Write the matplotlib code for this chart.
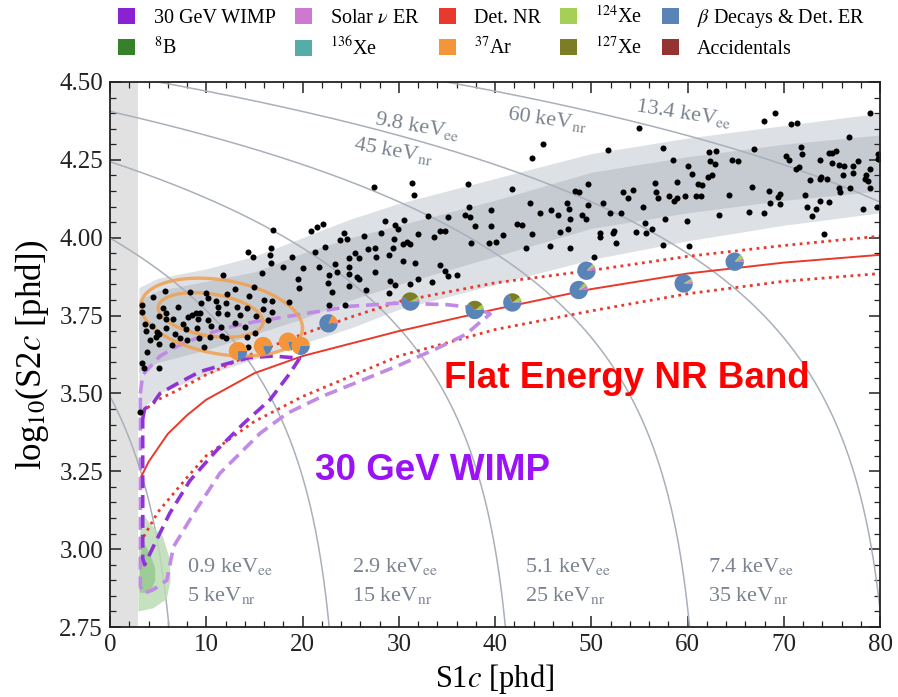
#!/usr/bin/env python3
# -*- coding: utf-8 -*-
"""
LZ-style S1c / log10(S2c) search-space plot with ER/NR bands,
WIMP contours and the observed events.
"""

import numpy as np
import matplotlib
matplotlib.use('Agg')
import matplotlib.pyplot as plt
from matplotlib.patches import Patch
from matplotlib.ticker import MultipleLocator, FormatStrFormatter

plt.rcParams['font.family'] = ['Liberation Serif', 'DejaVu Serif']
plt.rcParams['mathtext.fontset'] = 'stix'

# ---------------- data ----------------
# detector constants for the constant-energy contours
g1, g2, w_kev = 0.114, 47.1, 0.0137
contour_kevee = [0.9, 2.9, 5.1, 7.4, 9.8, 13.4]
s1_threshold = 2.9

# ER band (outer light / inner dark)
band_s1 = [3, 5, 10, 15, 20, 25, 30, 40, 50, 60, 70, 80]
band_outer_lo = [3.44, 3.50, 3.56, 3.61, 3.66, 3.71, 3.77, 3.85, 3.93, 3.99, 4.04, 4.08]
band_outer_hi = [3.84, 3.87, 3.90, 3.94, 4.00, 4.06, 4.11, 4.19, 4.27, 4.32, 4.36, 4.40]
band_inner_lo = [3.57, 3.60, 3.64, 3.69, 3.74, 3.80, 3.85, 3.94, 4.03, 4.08, 4.12, 4.15]
band_inner_hi = [3.80, 3.83, 3.86, 3.89, 3.95, 4.00, 4.04, 4.12, 4.21, 4.26, 4.30, 4.33]

# flat energy NR band: median and 10/90 %
nr_med_s1 = [3.2, 4, 6, 8, 10, 15, 20, 25, 30, 40, 50, 60, 70, 80]
nr_med_y = [3.23, 3.28, 3.37, 3.43, 3.48, 3.565, 3.62, 3.66, 3.70, 3.77, 3.835, 3.885, 3.92, 3.945]
nr_hi_s1 = [3.3, 5, 7, 10, 15, 20, 25, 30, 40, 50, 60, 70, 80]
nr_hi_y = [3.44, 3.48, 3.51, 3.56, 3.63, 3.69, 3.745, 3.795, 3.855, 3.895, 3.94, 3.975, 4.005]
nr_lo_s1 = [3.5, 5, 8, 10, 15, 20, 25, 30, 40, 50, 60, 70, 80]
nr_lo_y = [3.04, 3.12, 3.23, 3.30, 3.41, 3.49, 3.555, 3.62, 3.705, 3.765, 3.82, 3.86, 3.885]

# 30 GeV WIMP contours (outer / inner), closed paths
wimp_outer_s1 = [3.15, 3.4, 5.2, 6.9, 8, 10, 12, 15, 20, 25, 30, 35, 38, 39.5,
                 38.5, 37, 34, 30, 26, 22, 18.4, 15.6, 11.4, 8.7, 6.6, 5.9, 4.5, 3.5, 3.15, 3.15]
wimp_outer_y = [3.50, 3.56, 3.62, 3.65, 3.665, 3.69, 3.71, 3.73, 3.755, 3.78, 3.79, 3.785, 3.775, 3.755,
                3.73, 3.69, 3.645, 3.59, 3.54, 3.49, 3.436, 3.372, 3.243, 3.115, 3.008, 2.90, 2.87, 2.858, 2.88, 3.50]
wimp_inner_s1 = [3.4, 3.6, 4.5, 5.2, 6.9, 9.35, 12.1, 14.5, 17, 19.7,
                 18.7, 16.6, 13.9, 11.1, 8.3, 6.2, 4.5, 3.6, 3.4, 3.4]
wimp_inner_y = [3.42, 3.45, 3.47, 3.50, 3.53, 3.57, 3.595, 3.615, 3.62, 3.613,
                3.565, 3.479, 3.404, 3.318, 3.22, 3.115, 3.008, 2.95, 2.97, 3.42]

# 8B region (outer / inner)
b8_outer_s1 = [3.5, 4.2, 5.5, 6.2, 6.3, 5.9, 4.5, 2.95, 2.95, 3.0]
b8_outer_y = [3.11, 3.08, 3.04, 2.97, 2.90, 2.84, 2.81, 2.80, 2.90, 3.03]
b8_inner_s1 = [3.4, 4.2, 4.7, 4.7, 4.2, 3.1, 3.1]
b8_inner_y = [3.03, 2.98, 2.94, 2.90, 2.86, 2.86, 2.95]

# 37Ar contours: centre, half widths, tilt (dy per unit S1)
ar_cx = [11.6, 10.45]
ar_cy = [3.745, 3.752]
ar_a = [8.4, 5.45]
ar_b = [0.12, 0.068]
ar_tilt = [-0.0042, -0.0041]

# observed events
events_s1 = [
    55.0, 51.7, 57.5, 58.5, 60.1, 60.5, 62.2, 63.0, 62.3, 62.9, 64.6, 65.2, 66.9, 67.9, 69.1, 70.8,
    71.4, 70.2, 70.5, 71.8, 71.9, 71.6, 71.3, 73.8, 74.7, 75.0, 75.4, 75.0, 75.7, 76.3, 76.8, 77.7,
    77.2, 76.1, 77.2, 78.5, 78.4, 78.7, 79.0, 79.0, 79.8, 79.8, 79.0, 76.9, 75.7, 75.8, 72.7, 73.8,
    73.9, 74.5, 72.2, 73.8, 74.7, 72.4, 73.3, 72.9, 78.2, 79.7, 74.2, 68.5, 69.6, 69.4, 68.6, 69.6,
    67.9, 66.7, 66.4, 64.3, 63.3, 62.1, 62.5, 61.1, 61.5, 60.9, 61.4, 59.7, 58.9, 58.6, 58.1, 56.6,
    56.7, 56.9, 58.9, 54.3, 53.3, 53.8, 55.4, 51.2, 51.9, 53.1, 57.7, 59.9, 55.6, 56.3, 55.7, 54.6,
    52.4, 52.3, 52.6, 50.9, 57.5, 60.2, 50.9,
    45.0, 43.8, 27.4, 31.4, 31.6, 37.2, 41.8, 48.3, 48.7, 49.7, 43.6, 47.5, 47.7, 49.7, 37.3, 39.6,
    44.7, 45.8, 46.5, 47.8, 49.0, 49.5, 33.0, 35.1, 36.9, 37.4, 28.6, 30.5, 29.6, 29.9, 24.3, 26.4,
    28.2, 32.0, 33.7, 34.3, 34.8, 37.9, 39.6, 42.3, 42.8, 43.8, 46.8, 47.6, 23.9, 24.6, 29.5, 26.8,
    27.5, 29.4, 30.4, 30.9, 31.2, 37.5, 39.4, 40.1, 40.8, 43.2, 45.7, 47.8, 50.3, 25.5, 25.9, 29.0,
    27.6, 24.8, 23.4, 23.6, 24.8, 24.8, 25.7, 25.9, 24.8, 23.1, 30.4, 31.7, 34.3, 34.8, 35.1, 36.0,
    27.5, 29.1, 29.6, 32.0, 31.2, 33.5, 26.6, 29.0, 24.4,
    16.9, 20.9, 21.5, 22.1, 14.3, 14.9, 16.7, 16.6, 16.7, 21.3, 22.3, 18.9, 18.0, 20.0, 21.7, 22.7,
    15.8, 11.7, 19.5, 19.6, 22.6, 15.0, 13.0, 12.2, 14.4, 16.0, 16.8, 18.6, 22.7, 8.3, 10.0, 10.2,
    5.7, 4.5, 3.3, 3.3, 5.5, 7.1, 9.5, 11.0, 11.2, 12.1, 13.2, 14.2, 13.5, 15.2, 15.9, 16.8,
    16.4, 5.1, 5.8, 5.8, 6.5, 8.1, 8.5, 8.9, 9.4, 7.6, 9.1, 10.2, 11.2, 12.2, 10.5, 11.5,
    9.0, 7.9, 14.0, 13.0, 3.6, 4.4, 4.9, 3.7, 5.8, 6.8, 7.3, 8.0, 9.2, 10.4, 11.6, 12.0,
    14.2, 15.1, 4.2, 4.8, 5.1, 6.4, 9.8, 14.3, 5.1,
    3.3, 3.5, 5.1, 3.1, 3.8,
]
events_s2 = [
    4.351, 4.282, 4.287, 4.250, 4.230, 4.204, 4.276, 4.279, 4.246, 4.237, 4.250, 4.246, 4.285, 4.375, 4.400, 4.365,
    4.369, 4.262, 4.250, 4.292, 4.269, 4.228, 4.220, 4.250, 4.271, 4.271, 4.279, 4.239, 4.233, 4.231, 4.324, 4.246,
    4.230, 4.201, 4.207, 4.201, 4.189, 4.182, 4.220, 4.401, 4.268, 4.253, 4.161, 4.159, 4.161, 4.148, 4.185, 4.188,
    4.196, 4.189, 4.137, 4.119, 4.115, 4.098, 4.092, 4.071, 4.091, 4.100, 4.011, 4.150, 4.140, 4.132, 4.112, 4.108,
    4.078, 4.164, 4.082, 4.136, 4.073, 4.194, 4.201, 4.172, 4.169, 4.134, 4.134, 4.133, 4.128, 4.119, 4.135, 4.176,
    4.148, 4.127, 4.180, 4.153, 4.148, 4.127, 4.098, 4.112, 4.078, 4.080, 4.059, 4.054, 4.046, 4.027, 4.014, 4.017,
    4.023, 4.014, 3.984, 4.015, 3.976, 3.974, 4.003,
    4.301, 4.257, 4.164, 4.175, 4.136, 4.172, 4.156, 4.151, 4.148, 4.172, 4.110, 4.110, 4.092, 4.106, 4.098, 4.089,
    4.078, 4.089, 4.072, 4.061, 4.073, 4.059, 4.071, 4.066, 4.073, 4.067, 4.054, 4.057, 4.040, 4.029, 4.014, 4.006,
    4.014, 4.012, 4.002, 4.021, 4.021, 4.037, 4.038, 4.043, 4.040, 4.012, 4.018, 4.029, 3.993, 3.995, 3.997, 3.963,
    3.967, 3.968, 3.980, 3.986, 3.980, 3.984, 3.982, 3.986, 4.009, 3.966, 3.974, 3.966, 3.938, 3.950, 3.934, 3.945,
    3.937, 3.936, 3.915, 3.891, 3.907, 3.883, 3.875, 3.866, 3.846, 3.825, 3.926, 3.920, 3.911, 3.892, 3.878, 3.879,
    3.889, 3.861, 3.848, 3.867, 3.850, 3.857, 3.832, 3.822, 3.783,
    4.025, 4.022, 4.035, 4.044, 3.953, 3.937, 3.966, 3.944, 3.918, 3.955, 3.969, 3.939, 3.907, 3.902, 3.905, 3.880,
    3.888, 3.881, 3.866, 3.840, 3.854, 3.843, 3.835, 3.819, 3.813, 3.800, 3.796, 3.794, 3.783, 3.825, 3.822, 3.805,
    3.829, 3.811, 3.784, 3.761, 3.775, 3.778, 3.789, 3.797, 3.778, 3.789, 3.778, 3.773, 3.752, 3.750, 3.772, 3.762,
    3.736, 3.749, 3.757, 3.740, 3.739, 3.744, 3.752, 3.757, 3.759, 3.723, 3.738, 3.736, 3.757, 3.754, 3.718, 3.713,
    3.710, 3.706, 3.714, 3.725, 3.723, 3.717, 3.698, 3.701, 3.710, 3.690, 3.679, 3.672, 3.677, 3.680, 3.685, 3.677,
    3.682, 3.695, 3.672, 3.682, 3.691, 3.655, 3.650, 3.650, 3.658,
    3.597, 3.581, 3.582, 3.441, 3.634,
]

# pie markers: position and composition
# order of wedges: Solar nu ER, 124Xe, 127Xe, 37Ar, beta & Det. ER
pie_s1 = [13.3, 15.9, 18.5, 19.8, 22.7, 31.2, 37.9, 41.8, 49.5, 48.7, 59.6, 64.9]
pie_s2 = [3.636, 3.652, 3.666, 3.653, 3.725, 3.795, 3.768, 3.792, 3.894, 3.832, 3.853, 3.923]
pie_fracs = [
    [0.00, 0.00, 0.00, 0.75, 0.25],
    [0.00, 0.00, 0.00, 0.80, 0.20],
    [0.02, 0.00, 0.00, 0.78, 0.20],
    [0.00, 0.00, 0.00, 0.70, 0.30],
    [0.03, 0.00, 0.00, 0.15, 0.82],
    [0.03, 0.06, 0.33, 0.00, 0.58],
    [0.02, 0.08, 0.28, 0.00, 0.62],
    [0.03, 0.07, 0.22, 0.00, 0.68],
    [0.08, 0.05, 0.00, 0.00, 0.87],
    [0.08, 0.06, 0.02, 0.00, 0.84],
    [0.04, 0.05, 0.00, 0.00, 0.91],
    [0.06, 0.08, 0.00, 0.00, 0.86],
]

# energy labels (bottom: keVee above keVnr)
bottom_label_s1 = [8.0, 25.1, 43.1, 62.1]
bottom_label_ee = ['0.9', '2.9', '5.1', '7.4']
bottom_label_nr = ['5', '15', '25', '35']
top_labels = [r'9.8 keV$_{\rm ee}$', r'45 keV$_{\rm nr}$', r'60 keV$_{\rm nr}$', r'13.4 keV$_{\rm ee}$']
top_label_s1 = [27.4, 25.2, 41.2, 54.5]
top_label_y = [4.365, 4.283, 4.380, 4.405]
top_label_rot = [-10, -10, -8, -9]

legend_labels = ['30 GeV WIMP', r'$^{8}$B', r'Solar $\nu$ ER', r'$^{136}$Xe', 'Det. NR',
                 r'$^{37}$Ar', r'$^{124}$Xe', r'$^{127}$Xe', r'$\beta$ Decays & Det. ER', 'Accidentals']
legend_colors = ['#8a22cf', '#37812b', '#cf78d0', '#52aea8', '#e53a2c',
                 '#f39538', '#a6cf55', '#7d7d25', '#5a84b8', '#953232']

PIE_COLORS = ['#cf78d0', '#a6cf55', '#7d7d25', '#f39538', '#5a84b8']


def draw_pie(ax, x, y, fracs, size=175):
    """scatter based pie marker (keeps round regardless of axis scale)"""
    fracs = np.asarray(fracs, dtype=float)
    fracs = fracs / fracs.sum()
    start = 0.0
    for frac, color in zip(fracs, PIE_COLORS):
        if frac <= 0:
            continue
        end = start + frac
        theta = np.linspace(2 * np.pi * start, 2 * np.pi * end, 40)
        xy = np.column_stack([np.r_[0, np.cos(theta), 0], np.r_[0, np.sin(theta), 0]])
        s = np.abs(xy).max()
        ax.scatter([x], [y], marker=xy, s=s ** 2 * size, facecolor=color,
                   edgecolor='none', zorder=8)
        start = end


def generate_chart(output_path):
    fig = plt.figure(figsize=(8.98, 6.97), dpi=100)
    ax = fig.add_axes([0.1225, 0.1004, 0.8575, 0.782])

    # threshold strip
    ax.axvspan(0, s1_threshold, color='#e1e1e1', lw=0, zorder=0)

    # ER band
    ax.fill_between(band_s1, band_outer_lo, band_outer_hi, color='#dde0e5', lw=0, zorder=1)
    ax.fill_between(band_s1, band_inner_lo, band_inner_hi, color='#c6cbd2', lw=0, zorder=1.1)

    # constant energy contours
    s1_grid = np.linspace(0, 80, 600)
    for e in contour_kevee:
        s2 = g2 * (e / w_kev - s1_grid / g1)
        ok = s2 > 0
        ax.plot(s1_grid[ok], np.log10(s2[ok]), color='#a9b0b9', lw=1.1, zorder=2)

    # 8B
    ax.fill(b8_outer_s1, b8_outer_y, color='#bcdcb4', alpha=0.85, lw=0, zorder=3)
    ax.fill(b8_inner_s1, b8_inner_y, color='#97c98f', alpha=0.85, lw=0, zorder=3.1)

    # NR band
    ax.plot(nr_med_s1, nr_med_y, color='#e8392b', lw=1.4, zorder=4)
    ax.plot(nr_hi_s1, nr_hi_y, color='#e8392b', lw=2.0, ls=(0, (1, 1.6)), zorder=4)
    ax.plot(nr_lo_s1, nr_lo_y, color='#e8392b', lw=2.0, ls=(0, (1, 1.6)), zorder=4)

    # WIMP contours
    ax.plot(wimp_outer_s1, wimp_outer_y, color='#c08ae6', lw=2.6, ls=(0, (3.6, 1.9)), zorder=5)
    ax.plot(wimp_inner_s1, wimp_inner_y, color='#9033d6', lw=2.6, ls=(0, (3.6, 1.9)), zorder=5.1)

    # 37Ar contours
    t = np.linspace(0, 2 * np.pi, 200)
    for cx, cy, a, b, k in zip(ar_cx, ar_cy, ar_a, ar_b, ar_tilt):
        ex = cx + a * np.cos(t)
        ey = cy + b * np.sin(t) + k * a * np.cos(t)
        ax.plot(ex, ey, color='#f0a050', lw=2.4, alpha=0.85, zorder=6)

    # events
    ax.scatter(events_s1, events_s2, s=19, color='black', lw=0, zorder=7)

    # pie markers
    for x, y, fr in zip(pie_s1, pie_s2, pie_fracs):
        draw_pie(ax, x, y, fr)

    # energy labels
    lab_color = '#7b8390'
    for x, ee, nr in zip(bottom_label_s1, bottom_label_ee, bottom_label_nr):
        ax.text(x, 2.928, ee + r' keV$_{\rm ee}$', fontsize=16, color=lab_color,
                ha='left', va='baseline', zorder=9)
        ax.text(x, 2.834, nr + r' keV$_{\rm nr}$', fontsize=16, color=lab_color,
                ha='left', va='baseline', zorder=9)
    for txt, x, y, r in zip(top_labels, top_label_s1, top_label_y, top_label_rot):
        ax.text(x, y, txt, fontsize=16, color=lab_color, rotation=r,
                rotation_mode='anchor', ha='left', va='baseline', zorder=9)

    # big annotations
    ax.text(34.7, 3.517, 'Flat Energy NR Band', fontsize=26.5, fontweight='bold',
            color='#ff0000', family='Liberation Sans', zorder=9)
    ax.text(21.3, 3.222, '30 GeV WIMP', fontsize=26.5, fontweight='bold',
            color='#9a12f5', family='Liberation Sans', zorder=9)

    # axes
    ax.set_xlim(0, 80)
    ax.set_ylim(2.75, 4.5)
    ax.xaxis.set_major_locator(MultipleLocator(10))
    ax.xaxis.set_minor_locator(MultipleLocator(2))
    ax.yaxis.set_major_locator(MultipleLocator(0.25))
    ax.yaxis.set_minor_locator(MultipleLocator(0.05))
    ax.yaxis.set_major_formatter(FormatStrFormatter('%.2f'))
    ax.tick_params(which='both', direction='in', top=True, right=True, colors='#222222')
    ax.tick_params(which='major', length=8, width=1.1, labelsize=18, pad=5)
    ax.tick_params(which='minor', length=4, width=0.9)
    for sp in ax.spines.values():
        sp.set_linewidth(1.3)
        sp.set_color('#222222')
        sp.set_zorder(10)

    ax.set_xlabel(r'S1$c$ [phd]', fontsize=22, labelpad=4)
    ax.set_ylabel(r'log$_{10}$(S2$c$ [phd])', fontsize=25, labelpad=6)

    # legend above the axes
    handles = [Patch(facecolor=c, edgecolor='none') for c in legend_colors]
    fig.legend(handles, legend_labels, ncol=5, loc='upper left',
               bbox_to_anchor=(0.125, 1.0), frameon=False, fontsize=14.5,
               handlelength=0.85, handleheight=0.85, handletextpad=0.9,
               columnspacing=0.95, labelspacing=0.45, borderaxespad=0.1, borderpad=0.2)

    plt.savefig(output_path, dpi=100, facecolor='white')
    plt.close()


if __name__ == "__main__":
    generate_chart('out.png')
